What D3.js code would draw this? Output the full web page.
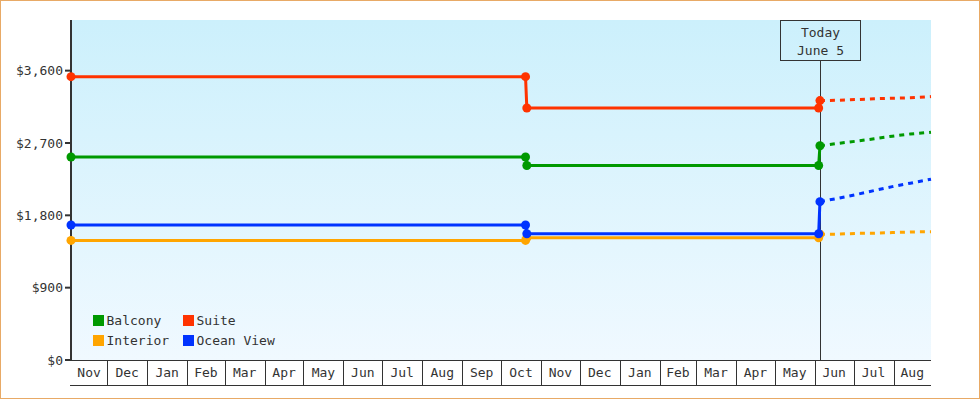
<!DOCTYPE html>
<html>
<head>
<meta charset="utf-8">
<script src="https://cdn.jsdelivr.net/npm/d3@7"></script>
<style>
  html, body { margin: 0; padding: 0; background: #fff; }
  svg text { font-family: "DejaVu Sans Mono", monospace; font-size: 13px; fill: #333; }
</style>
</head>
<body>
<svg id="chart"></svg>
<script>
// price history: each change is a pair of points one day apart
const historyDates = ['2023-11-03', '2024-10-20', '2024-10-21', '2025-06-04', '2025-06-05'];
const balcony = [2525, 2525, 2420, 2420, 2665];
const suite = [3525, 3525, 3135, 3135, 3227];
const interior = [1488, 1488, 1520, 1520, 1565];
const oceanView = [1680, 1680, 1570, 1570, 1970];

// forecast, drawn dashed from today
const forecastDates = ['2025-06-05', '2025-06-19', '2025-07-03', '2025-07-17', '2025-07-31', '2025-08-14', '2025-08-30'];
const balconyForecast = [2665, 2695, 2722, 2752, 2785, 2812, 2833];
const suiteForecast = [3227, 3232, 3240, 3250, 3257, 3262, 3277];
const interiorForecast = [1565, 1566, 1575, 1578, 1585, 1593, 1596];
const oceanViewForecast = [1970, 2012, 2058, 2108, 2157, 2200, 2249];

const seriesNames = ['Interior', 'Balcony', 'Ocean View', 'Suite'];
const legendOrder = ['Balcony', 'Suite', 'Interior', 'Ocean View'];
const yTicks = [0, 900, 1800, 2700, 3600];
const domainDates = ['2023-11-03', '2025-08-30'];
const todayDate = '2025-06-05';
const todayLabel = ['Today', 'June 5'];

const colors = {
  'Balcony': '#009900',
  'Suite': '#ff3300',
  'Interior': '#ffa500',
  'Ocean View': '#0033ff'
};

const parse = d3.timeParse('%Y-%m-%d');
const historyValues = { 'Balcony': balcony, 'Suite': suite, 'Interior': interior, 'Ocean View': oceanView };
const forecastValues = { 'Balcony': balconyForecast, 'Suite': suiteForecast, 'Interior': interiorForecast, 'Ocean View': oceanViewForecast };

const width = 980;
const height = 400;
const margin = { top: 20, right: 49, bottom: 40, left: 71 };
const innerW = width - margin.left - margin.right;
const innerH = height - margin.top - margin.bottom;

const svg = d3.select('#chart')
  .attr('width', width)
  .attr('height', height);

// outer frame
svg.append('rect')
  .attr('x', 0.5).attr('y', 0.5)
  .attr('width', width - 1).attr('height', height - 2)
  .attr('fill', 'none')
  .attr('stroke', '#e8aa66');

const defs = svg.append('defs');
const grad = defs.append('linearGradient')
  .attr('id', 'bg')
  .attr('x1', 0).attr('y1', 0).attr('x2', 0).attr('y2', 1);
grad.append('stop').attr('offset', '0%').attr('stop-color', '#ccf0fc');
grad.append('stop').attr('offset', '100%').attr('stop-color', '#f0f9ff');

const g = svg.append('g')
  .attr('transform', `translate(${margin.left},${margin.top})`);

const x = d3.scaleTime()
  .domain(domainDates.map(parse))
  .range([0, innerW]);

const allValues = [].concat(balcony, suite, interior, oceanView);
const y = d3.scaleLinear()
  .domain([0, d3.max(allValues) * 1.2])
  .range([innerH, 0]);

g.append('rect')
  .attr('width', innerW)
  .attr('height', innerH)
  .attr('fill', 'url(#bg)');

// month cells under the plot
const [d0, d1] = x.domain();
const monthStarts = d3.timeMonth.range(d3.timeMonth.ceil(d0), d1);
const edges = [d0].concat(monthStarts, [d1]);
const cells = d3.pairs(edges);

const xAxis = g.append('g').attr('transform', `translate(0,${innerH})`);
xAxis.append('line')
  .attr('x1', -1).attr('x2', innerW)
  .attr('y1', 0.5).attr('y2', 0.5)
  .attr('stroke', '#333');
xAxis.append('line')
  .attr('x1', -1).attr('x2', innerW)
  .attr('y1', 25.5).attr('y2', 25.5)
  .attr('stroke', '#333');
xAxis.selectAll('.sep')
  .data(monthStarts)
  .enter()
  .append('line')
  .attr('class', 'sep')
  .attr('x1', d => Math.round(x(d)) + 0.5)
  .attr('x2', d => Math.round(x(d)) + 0.5)
  .attr('y1', 0).attr('y2', 25)
  .attr('stroke', '#333');
xAxis.selectAll('.mlabel')
  .data(cells)
  .enter()
  .append('text')
  .attr('class', 'mlabel')
  .attr('x', d => (x(d[0]) + x(d[1])) / 2)
  .attr('y', 17)
  .attr('text-anchor', 'middle')
  .text(d => d3.timeFormat('%b')(d3.timeMonth.floor(d[0])));

// y axis
const yAxis = g.append('g');
yAxis.append('line')
  .attr('x1', 0).attr('x2', 0)
  .attr('y1', 0).attr('y2', innerH + 1)
  .attr('stroke', '#333')
  .attr('stroke-width', 2);
yAxis.selectAll('.tick')
  .data(yTicks)
  .enter()
  .append('line')
  .attr('class', 'tick')
  .attr('x1', -6).attr('x2', 0)
  .attr('y1', d => y(d)).attr('y2', d => y(d))
  .attr('stroke', '#333')
  .attr('stroke-width', 2);
yAxis.selectAll('.ylabel')
  .data(yTicks)
  .enter()
  .append('text')
  .attr('class', 'ylabel')
  .attr('x', -8)
  .attr('y', d => y(d))
  .attr('dy', '0.35em')
  .attr('text-anchor', 'end')
  .text(d => d3.format('$,')(d));

// today marker
const tx = Math.round(x(parse(todayDate))) + 0.5;
g.append('line')
  .attr('x1', tx).attr('x2', tx)
  .attr('y1', 40).attr('y2', innerH)
  .attr('stroke', '#333');
g.append('rect')
  .attr('x', tx - 40).attr('y', 0.5)
  .attr('width', 80).attr('height', 40)
  .attr('fill', 'none')
  .attr('stroke', '#333');
g.selectAll('.today')
  .data(todayLabel)
  .enter()
  .append('text')
  .attr('class', 'today')
  .attr('x', tx)
  .attr('y', (d, i) => 17 + i * 18)
  .attr('text-anchor', 'middle')
  .text(d => d);

const line = d3.line()
  .x(d => x(d.date))
  .y(d => y(d.value));

seriesNames.forEach(name => {
  const hist = historyDates.map((d, i) => ({ date: parse(d), value: historyValues[name][i] }));
  const fc = forecastDates.map((d, i) => ({ date: parse(d), value: forecastValues[name][i] }));

  g.append('path')
    .datum(fc)
    .attr('d', line)
    .attr('fill', 'none')
    .attr('stroke', colors[name])
    .attr('stroke-width', 3)
    .attr('stroke-dasharray', '5,5');

  g.append('path')
    .datum(hist)
    .attr('d', line)
    .attr('fill', 'none')
    .attr('stroke', colors[name])
    .attr('stroke-width', 3);

  g.selectAll(null)
    .data(hist)
    .enter()
    .append('circle')
    .attr('cx', d => x(d.date))
    .attr('cy', d => y(d.value))
    .attr('r', 4.5)
    .attr('fill', colors[name]);
});

// legend
const legend = g.append('g').attr('transform', 'translate(22,295)');
legendOrder.forEach((name, i) => {
  const col = i % 2;
  const row = Math.floor(i / 2);
  const item = legend.append('g')
    .attr('transform', `translate(${col * 90},${row * 20})`);
  item.append('rect')
    .attr('width', 11).attr('height', 11)
    .attr('fill', colors[name]);
  item.append('text')
    .attr('x', 13.5)
    .attr('y', 10)
    .text(name);
});
</script>
</body>
</html>
